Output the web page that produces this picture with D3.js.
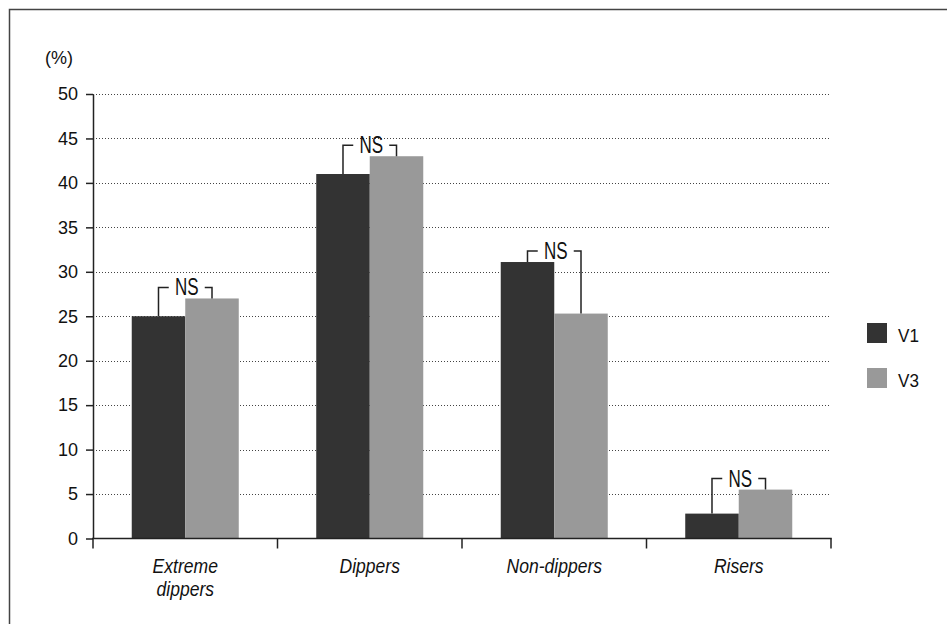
<!DOCTYPE html>
<html>
<head>
<meta charset="utf-8">
<script src="https://cdn.jsdelivr.net/npm/d3@7"></script>
<style>
  html, body { margin: 0; padding: 0; background: #fff; }
  svg { display: block; }
  text { font-family: "Liberation Sans", Arial, sans-serif; fill: #111; }
</style>
</head>
<body>
<svg id="chart" width="947" height="624"></svg>
<script>
// Share of patients by dipping pattern at each visit
const categories = ["Extreme dippers", "Dippers", "Non-dippers", "Risers"];
const seriesNames = ["V1", "V3"];
const v1Values = [25.0, 41.0, 31.1, 2.8];
const v3Values = [27.0, 43.0, 25.3, 5.5];
const sigLabels = ["NS", "NS", "NS", "NS"];
const yTicks = [0, 5, 10, 15, 20, 25, 30, 35, 40, 45, 50];
const yUnit = "(%)";

const colors = { V1: "#333333", V3: "#999999" };

const svg = d3.select("#chart");

// outer frame (runs off the right and bottom edges)
svg.append("rect")
  .attr("x", 9.5).attr("y", 9.5)
  .attr("width", 1200).attr("height", 1200)
  .attr("fill", "none").attr("stroke", "#444").attr("stroke-width", 1.5);

const x = d3.scaleBand().domain(categories).range([93, 831]).paddingInner(0).paddingOuter(0);
const xs = d3.scaleBand().domain(seriesNames).range([0, x.bandwidth()]).paddingInner(0).paddingOuter(0.724);
const y = d3.scaleLinear().domain([0, 50]).range([538.5, 94]);

// dotted gridlines
svg.append("g").selectAll("line")
  .data(yTicks.filter(d => d > 0))
  .join("line")
  .attr("x1", 93).attr("x2", 831)
  .attr("y1", d => Math.round(y(d)) + 0.5).attr("y2", d => Math.round(y(d)) + 0.5)
  .attr("stroke", "#444").attr("stroke-width", 1)
  .attr("stroke-dasharray", "1,2");

// bars
const rows = categories.map((c, i) => ({ cat: c, vals: [
  { key: "V1", v: v1Values[i] },
  { key: "V3", v: v3Values[i] }
], sig: sigLabels[i] }));

const groups = svg.append("g").selectAll("g")
  .data(rows).join("g")
  .attr("transform", d => `translate(${x(d.cat)},0)`);

groups.selectAll("rect")
  .data(d => d.vals).join("rect")
  .attr("x", d => xs(d.key))
  .attr("width", xs.bandwidth())
  .attr("y", d => y(d.v))
  .attr("height", d => y(0) - y(d.v))
  .attr("fill", d => colors[d.key]);

// significance brackets
groups.each(function(d) {
  const g = d3.select(this);
  const xa = xs("V1") + xs.bandwidth() / 2;
  const xb = xs("V3") + xs.bandwidth() / 2;
  const cx = x.bandwidth() / 2 + 1.5;
  const yb = Math.min(y(d.vals[0].v), y(d.vals[1].v)) - 11;
  g.append("path")
    .attr("d", `M${xa},${y(d.vals[0].v)}V${yb}H${cx - 18}M${cx + 18},${yb}H${xb}V${y(d.vals[1].v)}`)
    .attr("fill", "none").attr("stroke", "#222").attr("stroke-width", 1.5);
  g.append("text")
    .attr("transform", `translate(${cx},${yb + 8}) scale(0.74,1)`)
    .attr("text-anchor", "middle")
    .style("font-size", "23px")
    .text(d.sig);
});

// y axis
const yAxis = svg.append("g")
  .attr("transform", "translate(93,0)")
  .call(d3.axisLeft(y).tickValues(yTicks).tickSize(7).tickSizeOuter(0).tickPadding(8));
yAxis.select(".domain").attr("stroke", "#222").attr("stroke-width", 1.5);
yAxis.selectAll(".tick line").attr("stroke", "#222").attr("stroke-width", 1.5);
yAxis.selectAll(".tick text")
  .style("font-size", "18px")
  .style("font-family", "\"Liberation Sans\", Arial, sans-serif")
  .attr("fill", "#111");

svg.append("text")
  .attr("x", 45).attr("y", 64)
  .style("font-size", "18px")
  .text(yUnit);

// x axis line with boundary ticks
const xAxisG = svg.append("g");
xAxisG.append("line")
  .attr("x1", 92).attr("x2", 831.75)
  .attr("y1", y(0)).attr("y2", y(0))
  .attr("stroke", "#222").attr("stroke-width", 1.5);
const bounds = categories.map(c => x(c)).concat([x.range()[1]]);
xAxisG.selectAll("line.b")
  .data(bounds).join("line")
  .attr("class", "b")
  .attr("x1", d => d).attr("x2", d => d)
  .attr("y1", y(0)).attr("y2", y(0) + 10)
  .attr("stroke", "#222").attr("stroke-width", 1.5);

// category labels (slightly condensed italic)
const labels = svg.append("g").selectAll("text")
  .data(categories).join("text")
  .attr("transform", d => `translate(${x(d) + x.bandwidth() / 2},573) scale(0.9,1)`)
  .attr("text-anchor", "middle")
  .style("font-size", "19.5px")
  .style("font-style", "italic");
labels.each(function(d) {
  const t = d3.select(this);
  d.split(" ").forEach((w, i) => {
    t.append("tspan")
      .attr("x", 0)
      .attr("dy", i === 0 ? 0 : 23)
      .text(w);
  });
});

// legend
const legend = svg.append("g").selectAll("g")
  .data(seriesNames).join("g")
  .attr("transform", (d, i) => `translate(867,${323 + i * 45})`);
legend.append("rect")
  .attr("width", 20).attr("height", 20)
  .attr("fill", d => colors[d]);
legend.append("text")
  .attr("transform", "translate(31,18.5) scale(0.9,1)")
  .style("font-size", "19px")
  .text(d => d);
</script>
</body>
</html>
